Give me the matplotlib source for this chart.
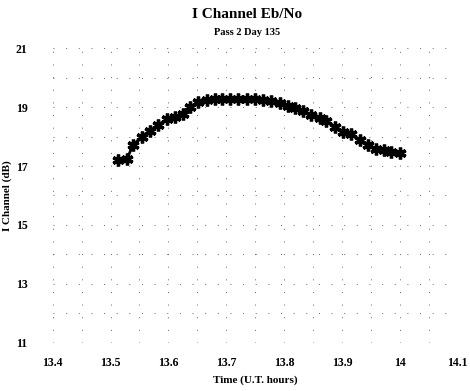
import numpy as np
import matplotlib.pyplot as plt
from matplotlib.ticker import MultipleLocator

# czas (godziny UT) i poziom kanalu I (dB)
time_h = [13.513, 13.528, 13.539, 13.554, 13.568, 13.582, 13.597, 13.611, 13.625,
          13.638, 13.651, 13.666, 13.680, 13.692, 13.706, 13.721, 13.735, 13.749,
          13.764, 13.778, 13.792, 13.807, 13.819, 13.833, 13.847, 13.862, 13.873,
          13.888, 13.902, 13.916, 13.931, 13.945, 13.958, 13.972, 13.985, 14.000]
i_db = [17.20, 17.23, 17.71, 17.99, 18.19, 18.39, 18.58, 18.67, 18.76,
        19.01, 19.18, 19.24, 19.26, 19.26, 19.26, 19.26, 19.26, 19.26,
        19.24, 19.20, 19.13, 19.04, 18.96, 18.86, 18.73, 18.62, 18.53,
        18.33, 18.16, 18.07, 17.88, 17.71, 17.58, 17.54, 17.46, 17.43]

xticks = [13.4, 13.5, 13.6, 13.7, 13.8, 13.9, 14.0, 14.1]
xlabels = ['13.4', '13.5', '13.6', '13.7', '13.8', '13.9', '14', '14.1']
yticks = [11, 13, 15, 17, 19, 21]

plt.rcParams['font.family'] = 'Liberation Serif'
plt.rcParams['font.weight'] = 'bold'

fig = plt.figure(figsize=(4.7, 3.91), dpi=100)
ax = fig.add_axes([0.112, 0.123, 0.862, 0.754])

ax.plot(time_h, i_db, color='black', lw=2.0, marker=(6, 2, 0), ms=8.5, mew=2.4)

ax.set_xlim(13.4, 14.1)
ax.set_ylim(11, 21)
ax.set_xticks(xticks)
ax.set_xticklabels(xlabels)
ax.set_yticks(yticks)
ax.xaxis.set_minor_locator(MultipleLocator(0.05))
ax.yaxis.set_minor_locator(MultipleLocator(1))
ax.tick_params(which='both', length=0)
ax.tick_params(axis='x', pad=10, labelsize=8.5)
ax.tick_params(axis='y', pad=18, labelsize=8.5)
for s in ax.spines.values():
    s.set_visible(False)
ax.grid(which='both', color='0.4', lw=0.7, linestyle=(0, (1, 12)))
ax.set_axisbelow(True)

ax.set_xlabel('Time (U.T. hours)', fontsize=8, fontweight='bold', labelpad=5)
ax.set_ylabel('I Channel (dB)', fontsize=8, fontweight='bold', labelpad=3)

fig.text(0.525, 0.963, 'I Channel Eb/No', ha='center', va='center', fontsize=11, fontweight='bold')
fig.text(0.525, 0.916, 'Pass 2 Day 135', ha='center', va='center', fontsize=7.5, fontweight='bold')

fig.savefig('out.png', dpi=100)
